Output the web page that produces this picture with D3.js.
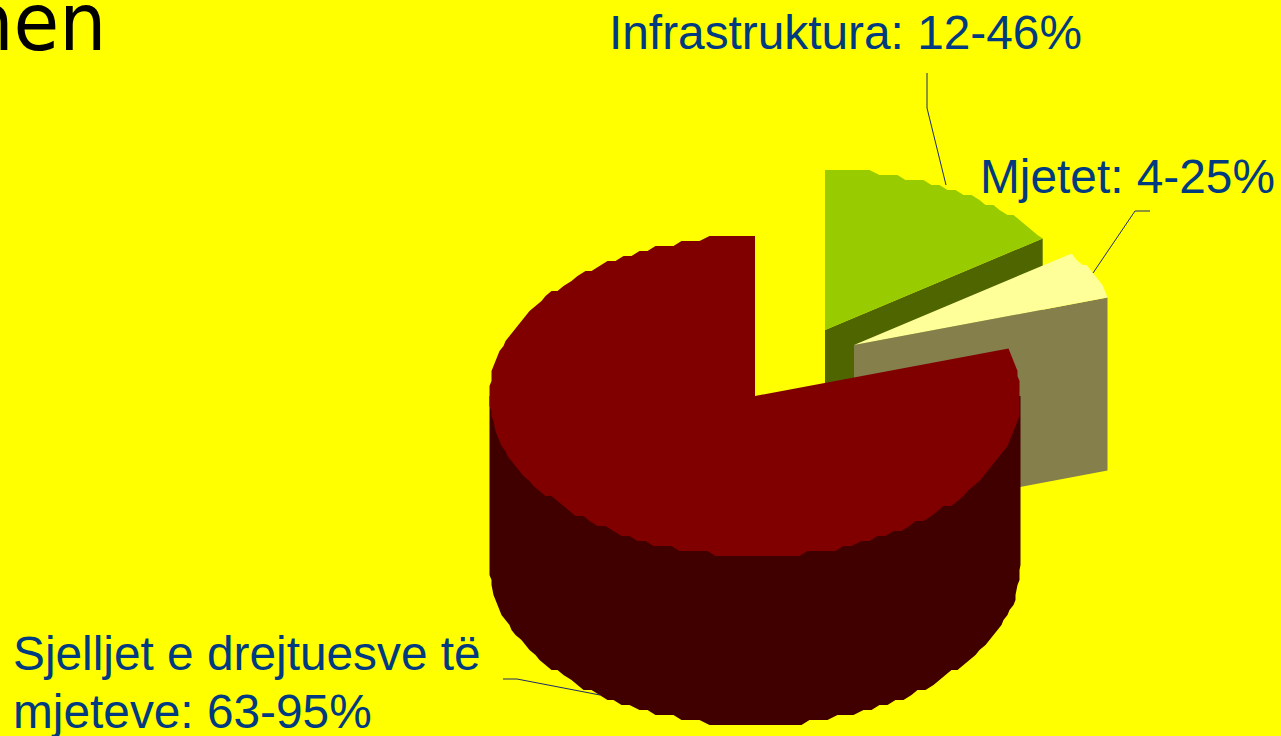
<!DOCTYPE html>
<html>
<head>
<meta charset="utf-8">
<script src="https://cdn.jsdelivr.net/npm/d3@7"></script>
<style>
  html, body { margin: 0; padding: 0; background: #ffff00; overflow: hidden; }
  text { font-family: "Liberation Sans", Arial, sans-serif; fill: #003a80; }
</style>
</head>
<body>
<svg id="chart" width="1281" height="736"></svg>
<script>
var categories = ["Infrastruktura", "Mjetet", "Sjelljet e drejtuesve të mjeteve"];
var shares = [15.3, 4.9, 79.8];
var ranges = ["12-46%", "4-25%", "63-95%"];

var topColors = ["#99cc00", "#ffff99", "#800000"];
var sideColors = ["#4f6600", "#857f4c", "#400000"];

var width = 1281;
var height = 736;
var rx = 265.5;
var ry = 160;
var depths = [170, 173, 169];
// where each slice got pulled out to
var centers = [[825, 330], [854, 345], [755, 396]];

var svg = d3.select("#chart");

var pie = d3.pie().sort(null).value(d => d);
var slices = pie(shares);

var line = d3.line();

// the rim comes out blocky in the original, so snap it to a coarse grid
function rim(c, a0, a1, dy) {
  var n = Math.max(2, Math.ceil((a1 - a0) / 0.035));
  return d3.range(n + 1).map(i => {
    var a = a0 + (a1 - a0) * i / n;
    var x = rx * Math.sin(a);
    var y = -ry * Math.cos(a);
    var end = i == 0 || i == n;
    return [
      c[0] + (end ? x : Math.round((x + rx) / 2) * 2 - rx),
      c[1] + dy + (end ? y : Math.round((y + ry) / 5) * 5 - ry)
    ];
  });
}

function drawSlice(d, i) {
  var c = centers[i];
  var depth = depths[i];
  var g = svg.append("g");
  var endPt = [c[0] + rx * Math.sin(d.endAngle), c[1] - ry * Math.cos(d.endAngle)];

  if (d.endAngle < Math.PI) {
    // cut face under the clockwise edge
    g.append("path")
      .attr("fill", sideColors[i])
      .attr("d", line([c, endPt, [endPt[0], endPt[1] + depth], [c[0], c[1] + depth]]) + "Z");
  } else {
    // outer wall, front half only
    var front = rim(c, Math.PI / 2, 3 * Math.PI / 2, depth);
    var left = [c[0] - rx, c[1]];
    var right = [c[0] + rx, c[1]];
    g.append("path")
      .attr("fill", sideColors[i])
      .attr("d", line([right].concat(front, [left])) + "Z");
  }

  g.append("path")
    .attr("fill", topColors[i])
    .attr("d", line([c].concat(rim(c, d.startAngle, d.endAngle, 0))) + "Z");
}

// back to front: the big slice sits on top
slices.forEach(drawSlice);

var leaders = [
  [[927, 73], [927, 108], [946, 185]],
  [[1150, 211], [1135, 211], [1093, 273]],
  [[503, 679], [517, 679], [600, 695]]
];
svg.selectAll("path.leader")
  .data(leaders)
  .enter()
  .append("path")
  .attr("class", "leader")
  .attr("fill", "none")
  .attr("stroke", "#1c2a6e")
  .attr("stroke-width", 1)
  .attr("d", d => line(d));

var labels = [
  { x: 609, y: 49, text: categories[0] + ": " + ranges[0] },
  { x: 980, y: 193, text: categories[1] + ": " + ranges[1] },
  { x: 13, y: 670, text: "Sjelljet e drejtuesve të" },
  { x: 13, y: 728, text: "mjeteve: " + ranges[2] }
];
svg.selectAll("text.label")
  .data(labels)
  .enter()
  .append("text")
  .attr("class", "label")
  .attr("x", d => d.x)
  .attr("y", d => d.y)
  .attr("font-size", 47.8)
  .text(d => d.text);

// tail of the slide title, cut off by the left edge
svg.append("text")
  .attr("transform", "translate(106.5,50) scale(0.93,1)")
  .attr("text-anchor", "end")
  .attr("font-size", 80)
  .style("font-family", "'DejaVu Sans', Verdana, sans-serif")
  .style("fill", "#000")
  .text("nen");
</script>
</body>
</html>
